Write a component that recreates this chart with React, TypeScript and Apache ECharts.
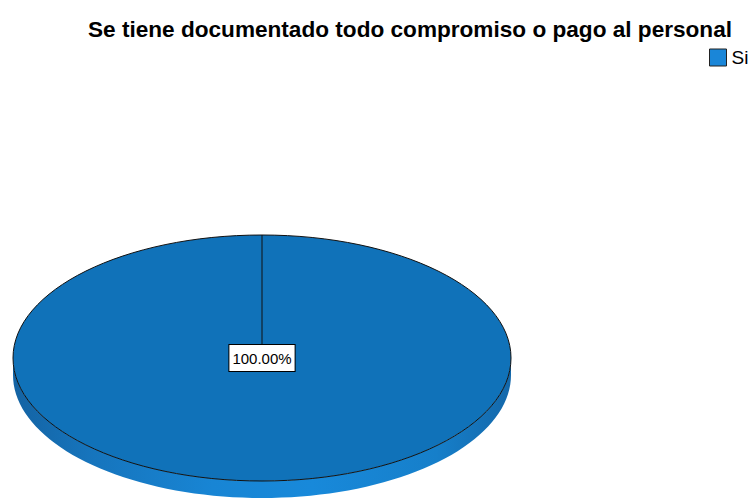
import React, { useEffect, useRef } from "react";
import * as echarts from "echarts";

const titleText = "Se tiene documentado todo compromiso o pago al personal";
const categories = ["Si"];
const values = [100];
const sliceColors = ["#1072b9"];
const legendColors = ["#1a86d8"];

export default function App() {
  const ref = useRef<HTMLDivElement>(null);
  useEffect(() => {
    if (!ref.current) return;
    const chart = echarts.init(ref.current, undefined, { renderer: "svg" });
    const total = values.reduce((a, b) => a + b, 0);
    const cx = 262, cy = 358, rx = 249, ry = 123, depth = 17;
    const pt = (deg: number, dy = 0) => {
      const r = (deg * Math.PI) / 180;
      return [cx + rx * Math.sin(r), cy - ry * Math.cos(r) + dy];
    };
    const renderItem = (params: any, api: any) => {
      const idx = params.dataIndex;
      const val = api.value(0);
      let before = 0;
      for (let i = 0; i < idx; i++) before += values[i];
      const t0 = (before / total) * 360;
      const t1 = ((before + val) / total) * 360;
      const color = sliceColors[idx % sliceColors.length];
      const children: any[] = [];
      // side (front half 90..270)
      const s = Math.max(t0, 90), e = Math.min(t1, 270);
      if (e > s) {
        const pts: number[][] = [];
        const n = 80;
        for (let k = 0; k <= n; k++) pts.push(pt(s + ((e - s) * k) / n));
        for (let k = n; k >= 0; k--) pts.push(pt(s + ((e - s) * k) / n, depth));
        children.push({
          type: "polygon",
          shape: { points: pts },
          style: {
            fill: new echarts.graphic.LinearGradient(0, 0, 1, 0, [
              { offset: 0, color: "#1463a3" },
              { offset: 0.15, color: "#1674bc" },
              { offset: 0.4, color: "#1885d4" },
              { offset: 0.6, color: "#1889da" },
              { offset: 0.85, color: "#167fca" },
              { offset: 1, color: "#1468aa" },
            ]),
            stroke: "none",
          },
        });
      }
      // top face
      if (t1 - t0 >= 359.999) {
        children.push({
          type: "ellipse",
          shape: { cx, cy, rx, ry },
          style: { fill: color, stroke: "#111", lineWidth: 1 },
        });
        const p = pt(t0);
        children.push({
          type: "line",
          shape: { x1: cx, y1: cy, x2: p[0], y2: p[1] },
          style: { stroke: "#111", lineWidth: 1 },
        });
      } else {
        const a = pt(t0), b = pt(t1);
        const large = t1 - t0 > 180 ? 1 : 0;
        children.push({
          type: "path",
          shape: {
            pathData: `M${cx},${cy}L${a[0]},${a[1]}A${rx},${ry} 0 ${large} 1 ${b[0]},${b[1]}Z`,
          },
          style: { fill: color, stroke: "#111", lineWidth: 1 },
        });
      }
      // label
      const mid = (t0 + t1) / 2;
      const lp = t1 - t0 >= 359.999 ? [cx, cy] : (() => {
        const r = (mid * Math.PI) / 180;
        return [cx + rx * 0.6 * Math.sin(r), cy - ry * 0.6 * Math.cos(r)];
      })();
      children.push({
        type: "text",
        x: lp[0],
        y: lp[1],
        style: {
          text: ((val / total) * 100).toFixed(2) + "%",
          fill: "#000",
          font: "15px Arial, 'Liberation Sans', sans-serif",
          align: "center",
          verticalAlign: "middle",
          backgroundColor: "#fff",
          borderColor: "#000",
          borderWidth: 1,
          padding: [6, 3, 5, 3],
        },
      });
      return { type: "group", children };
    };
    chart.setOption({
      animation: false,
      backgroundColor: "#fff",
      title: {
        text: titleText,
        left: 83,
        top: 13,
        textStyle: {
          fontFamily: "Arial, 'Liberation Sans', sans-serif",
          fontWeight: "bold",
          fontSize: 22.6,
          color: "#000",
        },
      },
      legend: {
        data: categories.map((c, i) => ({
          name: c,
          itemStyle: { color: legendColors[i], borderColor: "#222", borderWidth: 1 },
        })),
        left: 709,
        top: 48,
        padding: 0,
        icon: "rect",
        itemWidth: 17,
        itemHeight: 17,
        itemGap: 4,
        textStyle: {
          fontFamily: "Arial, 'Liberation Sans', sans-serif",
          fontSize: 19,
          color: "#000",
          padding: [0, 0, 0, 0],
        },
      },
      series: [
        {
          type: "custom",
          name: "Si",
          coordinateSystem: "none",
          renderItem,
          data: values.map((v) => [v]),
          itemStyle: { color: legendColors[0] },
        },
      ],
    });
    return () => chart.dispose();
  }, []);
  return (
    <div
      ref={ref}
      style={{ position: "fixed", left: 0, top: 0, width: 753, height: 500 }}
    />
  );
}
